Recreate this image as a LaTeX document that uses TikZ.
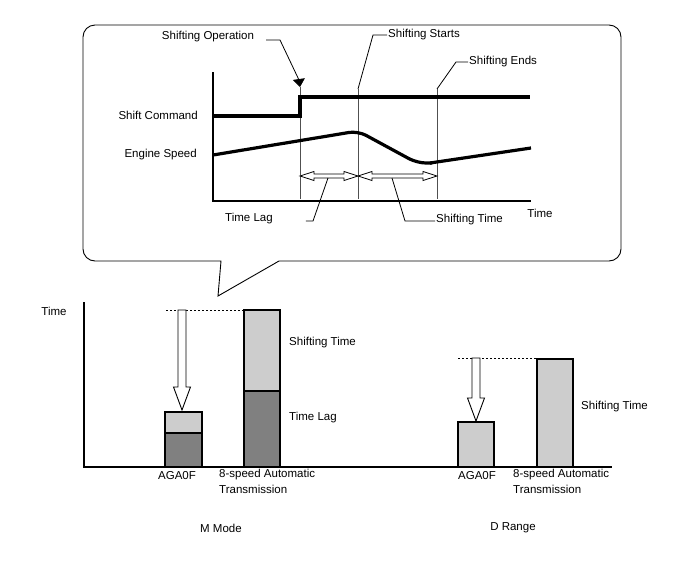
\documentclass[tikz,border=0pt]{standalone}
\usepackage{fontspec}
\setmainfont{Liberation Sans}
\usetikzlibrary{arrows.meta,positioning,calc}
\definecolor{barlight}{RGB}{205,205,205}
\definecolor{bardark}{RGB}{128,128,128}
\definecolor{guidegray}{RGB}{80,80,80}
\newcommand{\lblfont}{\fontsize{11.5}{16}\selectfont}
\tikzset{
  lbl/.style={font=\lblfont, inner sep=1pt},
  axisline/.style={line width=1.3pt},
  curve/.style={line width=3.2pt},
  guide/.style={line width=0.7pt, draw=guidegray},
  leader/.style={line width=0.8pt},
  lightbar/.style={draw, line width=1.1pt, fill=barlight},
  darkbar/.style={draw, line width=1.1pt, fill=bardark},
  limit/.style={line width=0.9pt, dash pattern=on 2pt off 2pt},
  pics/dblarrow/.style={code={
    \draw[line width=0.8pt, fill=white] (0,0) -- (14,-4.5) -- (14,-2) -- ({#1-14},-2)
      -- ({#1-14},-4.5) -- (#1,0) -- ({#1-14},4.5) -- ({#1-14},2) -- (14,2)
      -- (14,4.5) -- cycle;}},
  pics/downarrow/.style={code={
    \draw[line width=0.9pt, fill=white] (-4,-#1) -- (-4,-23) -- (-8.5,-23) -- (0,0)
      -- (8.5,-23) -- (4,-23) -- (4,-#1) -- cycle;}},
}

\begin{document}
\begin{tikzpicture}[x=1pt,y=-1pt]
\useasboundingbox (0,0) rectangle (688,560);

% callout
\draw[line width=0.9pt] (279,261) [rounded corners=12pt] -- (621,261) -- (621,25)
  -- (83,25) -- (83,261) [sharp corners] -- (221,261) -- (218,296) -- cycle;

% timing chart
\draw[axisline] (213,72) -- (213,201) -- (531,201);
\coordinate (opT) at (300,87);
\coordinate (startT) at (358,89);
\coordinate (endT) at (437,89);
\draw[guide] (opT) -- (300,199);
\draw[guide] (startT) -- (358,199);
\draw[guide] (endT) -- (437,199);
\draw[curve] (213,116) -- (300,116) -- (300,97) -- (530,97);
\draw[curve, rounded corners=9pt] (213,155) -- (358,131) -- (417,163) -- (432,163);
\draw[curve] (430,163) -- (531,148);
\pic at (300,176) {dblarrow=58};
\pic at (358,176) {dblarrow=79};
\coordinate (lagA) at (328,178);
\coordinate (shiftA) at (392,178);

\node[lbl, anchor=east] (cmdLbl) at (199,115) {Shift Command};
\node[lbl, anchor=east] (engLbl) at (198,155) {Engine Speed};
\node[lbl] (timeLbl) at (540,213) {Time};

\node[lbl] (opLbl) at (208,37) {Shifting Operation};
\node[lbl, anchor=west] (startLbl) at (387,35) {Shifting Starts};
\node[lbl, anchor=west] (endLbl) at (468,62) {Shifting Ends};
\node[lbl] (lagLbl) at (249,219) {Time Lag};
\node[lbl, anchor=west] (shiftLbl) at (435,220) {Shifting Time};

\draw[leader, -{Triangle[width=12pt,length=8pt]}] ([xshift=11pt,yshift=-3pt]opLbl.east)
  -- (280,40) -- (299,80) -- (opT);
\draw[leader] (startLbl.west) -- (373,35) -- (startT);
\draw[leader] (endLbl.west) -- (456,62) -- (endT);
\draw[leader] ([xshift=32pt,yshift=-2pt]lagLbl.east) -- (313,221) -- (lagA);
\draw[leader] ([yshift=-1pt]shiftLbl.west) -- (405,221) -- (shiftA);

% comparison chart
\draw[axisline] (84,302) -- (84,467) -- (612,467);
\node[lbl] (yLbl) at (54,311) {Time};

% M mode
\draw[limit] (166,310) -- (244,310);
\draw[darkbar] (165,433) rectangle (202,467);
\draw[lightbar] (165,412) rectangle (202,433);
\draw[darkbar] (244,391) rectangle (280,467);
\draw[lightbar] (244,310) rectangle (280,391);
\pic at (182,410) {downarrow=100};
\node[lbl, anchor=west] (mShift) at (288,343) {Shifting Time};
\node[lbl, anchor=west] (mLag) at (288,418) {Time Lag};
\node[lbl] (mAga) at (177,476) {AGA0F};
\node[lbl, anchor=north west, align=left] (mEight) at (218,467.5)
  {8-speed Automatic\\Transmission};
\node[lbl] (mMode) at (221,528) {M Mode};

% D range
\draw[limit] (458,358) -- (537,358);
\draw[lightbar] (458,422) rectangle (494,467);
\draw[lightbar] (537,359) rectangle (573,467);
\pic at (476,421) {downarrow=63};
\node[lbl, anchor=west] (dShift) at (580,407) {Shifting Time};
\node[lbl] (dAga) at (477,476) {AGA0F};
\node[lbl, anchor=north west, align=left] (dEight) at (512,467.5)
  {8-speed Automatic\\Transmission};
\node[lbl] (dRange) at (513,528) {D Range};

\end{tikzpicture}
\end{document}
